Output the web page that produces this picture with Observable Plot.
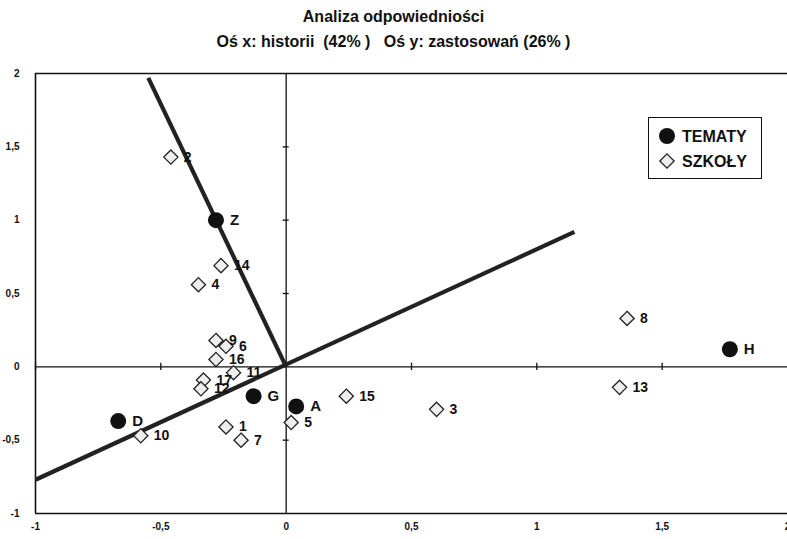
<!DOCTYPE html>
<html>
<head>
<meta charset="utf-8">
<script src="https://cdn.jsdelivr.net/npm/d3@7"></script>
<script src="https://cdn.jsdelivr.net/npm/@observablehq/plot@0.6"></script>
<style>
  html, body { margin: 0; padding: 0; background: #fff; }
  #wrap { position: relative; width: 787px; height: 539px; overflow: hidden; font-family: "Liberation Sans", Arial, sans-serif; }
  .t { position: absolute; left: 0; width: 787px; text-align: center; font-weight: bold; font-size: 16px; color: #111; white-space: pre; }
  #chart { position: absolute; left: 0; top: 50px; }
  #legend { position: absolute; left: 648px; top: 117px; width: 114px; height: 62px; border: 1.5px solid #111; box-sizing: border-box; background: #fff; }
  #legend svg { display: block; }
</style>
</head>
<body>
<div id="wrap">
  <div class="t" style="top:8px; padding-left:0px">Analiza odpowiedniości</div>
  <div class="t" style="top:33px">Oś x: historii  (42% )   Oś y: zastosowań (26% )</div>
  <div id="chart"></div>
  <div id="legend"></div>
</div>
<script>
// Tematy (filled circles)
const temLabels = ["Z", "H", "G", "A", "D"];
const temX = [-0.28, 1.77, -0.13, 0.04, -0.67];
const temY = [1.0, 0.12, -0.2, -0.27, -0.37];

// Szkoły (diamonds)
const szkLabels = ["2", "14", "4", "8", "9", "6", "16", "11", "17", "12", "1", "7", "5", "10", "15", "3", "13"];
const szkX = [-0.46, -0.26, -0.35, 1.36, -0.28, -0.24, -0.28, -0.21, -0.33, -0.34, -0.24, -0.18, 0.02, -0.58, 0.24, 0.60, 1.33];
const szkY = [1.43, 0.69, 0.56, 0.33, 0.18, 0.14, 0.05, -0.04, -0.09, -0.15, -0.41, -0.50, -0.38, -0.47, -0.20, -0.29, -0.14];

// Drawn directions (thick lines)
const dirX1 = [-0.55, -1.0];
const dirY1 = [1.97, -0.77];
const dirX2 = [0, 1.15];
const dirY2 = [0, 0.92];

// Axis ticks
const xTickVals = [-1, -0.5, 0, 0.5, 1, 1.5, 2];
const yTickVals = [-1, -0.5, 0, 0.5, 1, 1.5, 2];
const xMinor = [-1, -0.5, 0.5, 1, 1.5];
const yMinor = [-0.5, 0.5, 1, 1.5];

const tematy = temLabels.map((l, i) => ({label: l, x: temX[i], y: temY[i]}));
const szkoly = szkLabels.map((l, i) => ({label: l, x: szkX[i], y: szkY[i]}));
const dirs = dirX1.map((v, i) => ({x1: v, y1: dirY1[i], x2: dirX2[i], y2: dirY2[i]}));
const fmt = d => String(d).replace(".", ",");

const chart = Plot.plot({
  width: 787,
  height: 489,
  marginLeft: 35,
  marginRight: 0,
  marginTop: 23,
  marginBottom: 26,
  style: {fontFamily: "'Liberation Sans', Arial, sans-serif", fontSize: "10px", fontWeight: "bold", color: "#111", background: "transparent"},
  x: {domain: [-1, 2], ticks: xTickVals, tickFormat: fmt, tickSize: 0, tickPadding: 9, label: null},
  y: {domain: [-1, 2], ticks: yTickVals, tickFormat: fmt, tickSize: 0, tickPadding: 16, label: null},
  marks: [
    Plot.ruleX([-1], {stroke: "#111", strokeWidth: 1.6}),
    Plot.ruleY([2, -1], {stroke: "#111", strokeWidth: 1.6}),
    Plot.ruleX([0], {stroke: "#111", strokeWidth: 1.3}),
    Plot.ruleY([0], {stroke: "#111", strokeWidth: 1.3}),
    Plot.ruleX(xMinor, {x: d => d, y1: -0.025, y2: 0.025, stroke: "#111", strokeWidth: 1.3}),
    Plot.ruleY(yMinor, {y: d => d, x1: -0.012, x2: 0.012, stroke: "#111", strokeWidth: 1.3}),
    Plot.link(dirs, {x1: "x1", y1: "y1", x2: "x2", y2: "y2", stroke: "#222", strokeWidth: 4.2}),
    Plot.dot(szkoly, {x: "x", y: "y", symbol: "diamond2", r: 6.4, fill: "#eeeeee", stroke: "#222", strokeWidth: 1.3}),
    Plot.dot(tematy, {x: "x", y: "y", r: 8, fill: "#111"}),
    Plot.text(szkoly, {x: "x", y: "y", text: "label", dx: 13, textAnchor: "start", fontSize: 14, fontWeight: "bold", fill: "#111"}),
    Plot.text(tematy, {x: "x", y: "y", text: "label", dx: 14, textAnchor: "start", fontSize: 15, fontWeight: "bold", fill: "#111"})
  ]
});
document.getElementById("chart").appendChild(chart);

// Legend
const legendItems = ["TEMATY", "SZKOŁY"];
const leg = d3.select("#legend").append("svg").attr("width", 111).attr("height", 59)
  .style("font-family", "'Liberation Sans', Arial, sans-serif");
legendItems.forEach((name, i) => {
  const cy = 18 + i * 25;
  if (i === 0) {
    leg.append("circle").attr("cx", 18).attr("cy", cy).attr("r", 8).attr("fill", "#111");
  } else {
    leg.append("path").attr("d", d3.symbol(d3.symbolDiamond2, 130)()).attr("transform", `translate(18,${cy})`)
      .attr("fill", "#eee").attr("stroke", "#222").attr("stroke-width", 1.3);
  }
  leg.append("text").attr("x", 33).attr("y", cy).attr("dy", "0.35em").attr("font-size", 16)
    .attr("font-weight", "bold").attr("fill", "#111").text(name);
});
</script>
</body>
</html>
